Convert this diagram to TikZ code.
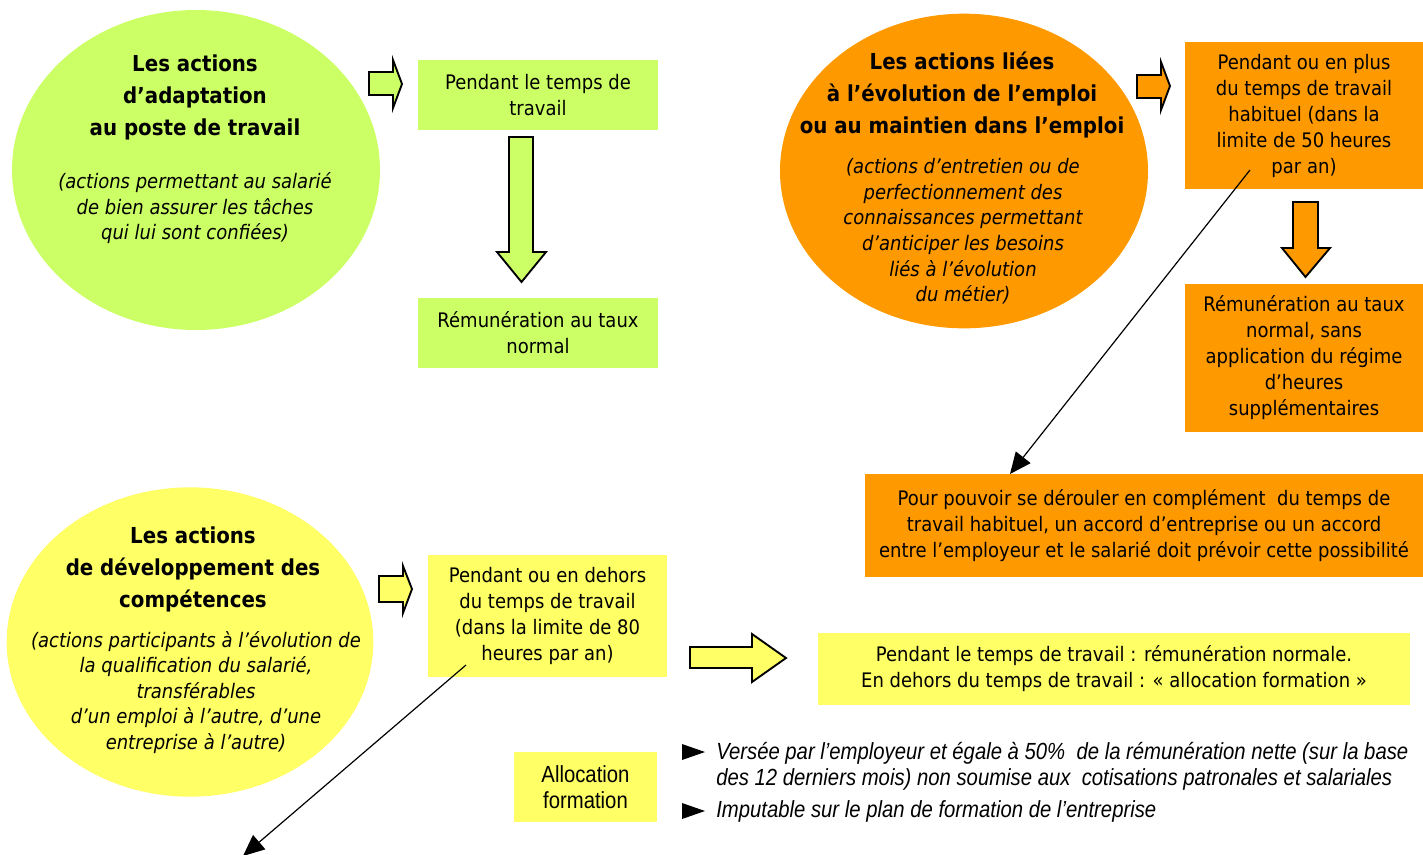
\documentclass[tikz,border=0pt]{standalone}
\usepackage{fontspec}
\setmainfont{DejaVu Sans}[FakeStretch=0.9]
\newfontfamily\narrowfont{Liberation Sans}[FakeStretch=0.87]
\usetikzlibrary{shapes.geometric,arrows.meta}
\definecolor{cgreen}{HTML}{CCFF66}
\definecolor{corange}{HTML}{FF9900}
\definecolor{cyellow}{HTML}{FFFF66}
\newcommand\bodyfnt{\fontsize{15}{19.5}\selectfont}
\newcommand\ttlfnt{\fontsize{16.5}{24}\selectfont\bfseries}
\newcommand\subfnt{\fontsize{15}{19.2}\selectfont\itshape}
\newcommand\narrowfnt{\narrowfont\fontsize{17.5}{19.5}\selectfont}
\tikzset{
  ell/.style={ellipse, draw=none, inner sep=0pt},
  box/.style={rectangle, draw=none, inner sep=0pt, align=center, font=\bodyfnt},
  ttl/.style={align=center, font=\ttlfnt, inner sep=0pt, yshift=-1.5pt},
  sbt/.style={align=center, font=\subfnt, inner sep=0pt, yshift=-1pt},
  barrow/.style={draw=black, line width=1.4pt, line join=miter},
  link/.style={draw=black, line width=0.9pt, -{Triangle[length=16pt,width=14pt]}},
  bullet/.style={fill=black}
}
\begin{document}
\begin{tikzpicture}[x=0.75pt,y=-0.75pt]
\useasboundingbox (0,0) rectangle (1423,854);
\clip (0,0) rectangle (1423,854);

% ellipses
\node[ell, fill=cgreen, minimum width=276pt, minimum height=240pt] (E1) at (196,170) {};
\node[ttl] (E1t) at (195,95) {Les actions\\d’adaptation\\au poste de travail};
\node[sbt] (E1s) at (195,207) {(actions permettant au salarié\\de bien assurer les tâches\\qui lui sont confiées)};

\node[ell, fill=corange, minimum width=276pt, minimum height=236pt] (E2) at (964,171) {};
\node[ttl] (E2t) at (962,93) {Les actions liées\\à l’évolution de l’emploi\\ou au maintien dans l’emploi};
\node[sbt] (E2s) at (963,230) {(actions d’entretien ou de\\perfectionnement des\\connaissances permettant\\d’anticiper les besoins\\liés à l’évolution\\du métier)};

\node[ell, fill=cyellow, minimum width=275pt, minimum height=232pt] (E3) at (190,642) {};
\node[ttl] (E3t) at (193,567) {Les actions\\de développement des\\compétences};
\node[sbt] (E3s) at (196,691) {(actions participants à l’évolution de\\la qualification du salarié,\\transférables\\d’un emploi à l’autre, d’une\\entreprise à l’autre)};

% boxes
\node[box, fill=cgreen, minimum width=180pt, minimum height=52.5pt] (B1) at (538,95) {Pendant le temps de\\travail};
\node[box, fill=cgreen, minimum width=180pt, minimum height=52.5pt] (B2) at (538,333) {Rémunération au taux\\normal};
\node[box, fill=corange, minimum width=178.5pt, minimum height=110.25pt] (O1) at (1304,115.5) {\raisebox{-2pt}{\parbox{170pt}{\centering Pendant ou en plus\\du temps de travail\\habituel (dans la\\limite de 50 heures\\par an)}}};
\node[box, fill=corange, minimum width=178.5pt, minimum height=111pt] (O2) at (1304,358) {Rémunération au taux\\normal, sans\\application du régime\\d’heures\\supplémentaires};
\node[box, fill=corange, minimum width=418.5pt, minimum height=77.25pt] (O3) at (1144,525.5) {Pour pouvoir se dérouler en complément\ \ du temps de\\travail habituel, un accord d’entreprise ou un accord\\entre l’employeur et le salarié doit prévoir cette possibilité};
\node[box, fill=cyellow, minimum width=179.25pt, minimum height=91.5pt] (Y1) at (547.5,616) {Pendant ou en dehors\\du temps de travail\\(dans la limite de 80\\heures par an)};
\node[box, fill=cyellow, minimum width=444pt, minimum height=54pt] (Y2) at (1114,669) {Pendant le temps de travail : rémunération normale.\\En dehors du temps de travail : « allocation formation »};
\node[box, fill=cyellow, minimum width=107.25pt, minimum height=52.5pt, font=\narrowfnt] (Y3) at (585.5,787) {Allocation\\formation};

% block arrows
\draw[barrow, fill=cgreen] (369,72) -- (393,72) -- (393,60) -- (402,84) -- (393,108) -- (393,95) -- (369,95) -- cycle;
\draw[barrow, fill=cgreen] (509,137) -- (533,137) -- (533,252) -- (546,252) -- (521.5,282) -- (497,252) -- (509,252) -- cycle;
\draw[barrow, fill=corange] (1137,75) -- (1161,75) -- (1161,62) -- (1170,86) -- (1161,110) -- (1161,98) -- (1137,98) -- cycle;
\draw[barrow, fill=corange] (1293,202) -- (1318,202) -- (1318,248) -- (1330,248) -- (1305.5,277) -- (1282,248) -- (1293,248) -- cycle;
\draw[barrow, fill=cyellow] (379,576) -- (403,576) -- (403,566) -- (412,589) -- (403,613) -- (403,602) -- (379,602) -- cycle;
\draw[barrow, fill=cyellow] (690,647) -- (752,647) -- (752,634) -- (786,658) -- (752,682) -- (752,668) -- (690,668) -- cycle;

% line arrows
\coordinate (a1s) at (1250,170);
\coordinate (a1e) at (1010,474);
\draw[link] (a1s) -- (a1e);
\coordinate (a2s) at (466,665);
\coordinate (a2e) at (243,856);
\draw[link] (a2s) -- (a2e);

% bullets
\fill[bullet] (682,744) -- (705,752) -- (682,760) -- cycle;
\fill[bullet] (682,803) -- (705,811) -- (682,819) -- cycle;
\node[anchor=west, align=left, inner sep=0pt, font=\narrowfnt\itshape] (T1) at (716,766) {Versée par l’employeur et égale à 50\%\ \ de la rémunération nette (sur la base\\des 12 derniers mois) non soumise aux\ \ cotisations patronales et salariales};
\node[anchor=west, align=left, inner sep=0pt, font=\narrowfnt\itshape] (T2) at (716,811) {Imputable sur le plan de formation de l’entreprise};
\end{tikzpicture}
\end{document}
